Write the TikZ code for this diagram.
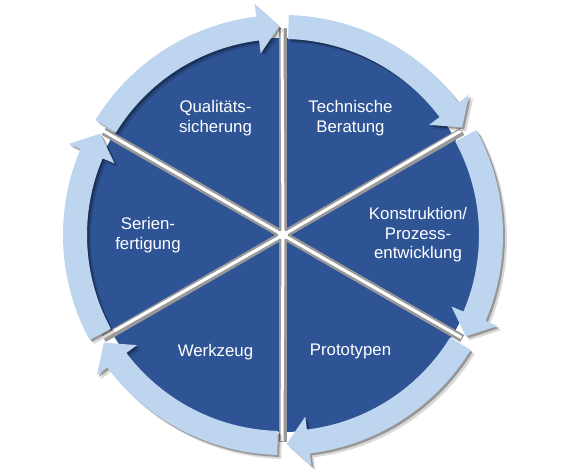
\documentclass[tikz,border=0pt]{standalone}
\usepackage{fontspec}
\setmainfont{Liberation Sans}
\definecolor{discblue}{RGB}{47,84,150}
\definecolor{ringblue}{RGB}{189,213,238}
% one bent arrow of the ring: #2 start angle, #3 tip angle (clockwise)
\newcommand{\cyclearrow}[3][]{%
  \fill[#1] (#2:220) arc[start angle=#2, end angle=#3+6, radius=220]
    -- (#3+6:233) -- (#3:209) -- (#3+6:183) -- (#3+6:196)
    arc[start angle=#3+6, end angle=#2, radius=196] -- cycle;}

\begin{document}
\begin{tikzpicture}[x=1bp, y=1bp,
  phasetext/.style={text=white, align=center,
    font=\fontsize{16.8bp}{19.5bp}\selectfont},
  divshade/.style={line width=8bp, draw=black!40},
  divline/.style={line width=3bp, draw=white},
  ringarrow/.style={fill=ringblue},
  softshade/.style={fill=black, opacity=.15, shift={(4,-4)}},
  darkshade/.style={fill=black, opacity=.3, shift={(2,-2)}}]
\useasboundingbox (-283,-235) rectangle (286,235);
\coordinate (hub) at (0,0);
\fill[discblue] (hub) circle[radius=197];

% spokes
\draw[divshade] (hub) -- (90:207);
\draw[divshade] (hub) -- (30:207);
\draw[divshade] (hub) -- (-30:207);
\draw[divshade] (hub) -- (-90:207);
\draw[divshade] (hub) -- (-150:207);
\draw[divshade] (hub) -- (150:207);
\begin{scope}[shift={(-1,1)}]
\draw[divline] (hub) -- (90:207);
\draw[divline] (hub) -- (30:207);
\draw[divline] (hub) -- (-30:207);
\draw[divline] (hub) -- (-90:207);
\draw[divline] (hub) -- (-150:207);
\draw[divline] (hub) -- (150:207);
\end{scope}
\fill[white] (hub) circle[radius=5];

% ring of arrows
\cyclearrow[softshade]{88.5}{31}
\cyclearrow[softshade]{28.5}{-29}
\cyclearrow[softshade]{-31.5}{-89}
\cyclearrow[softshade]{-91.5}{-149}
\cyclearrow[softshade]{-151.5}{-209}
\cyclearrow[softshade]{148.5}{91}
\cyclearrow[darkshade]{88.5}{31}
\cyclearrow[darkshade]{28.5}{-29}
\cyclearrow[darkshade]{-31.5}{-89}
\cyclearrow[darkshade]{-91.5}{-149}
\cyclearrow[darkshade]{-151.5}{-209}
\cyclearrow[darkshade]{148.5}{91}
\cyclearrow[ringarrow]{88.5}{31}
\cyclearrow[ringarrow]{28.5}{-29}
\cyclearrow[ringarrow]{-31.5}{-89}
\cyclearrow[ringarrow]{-91.5}{-149}
\cyclearrow[ringarrow]{-151.5}{-209}
\cyclearrow[ringarrow]{148.5}{91}

\node[phasetext] (quali) at (120:135) {Qualitäts-\\sicherung};
\node[phasetext] (beratung) at (60:135) {Technische\\Beratung};
\node[phasetext] (konstr) at (0:135) {Konstruktion/\\Prozess-\\entwicklung};
\node[phasetext] (proto) at (-60:135) {Prototypen};
\node[phasetext] (werkzeug) at (-120:135) {Werkzeug};
\node[phasetext] (serien) at (180:135) {Serien-\\fertigung};
\end{tikzpicture}
\end{document}
